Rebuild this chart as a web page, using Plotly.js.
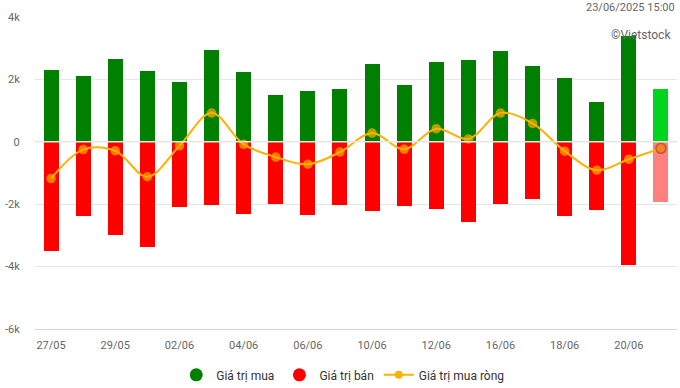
<!DOCTYPE html>
<html>
<head>
<meta charset="utf-8">
<script src="https://cdn.plot.ly/plotly-3.0.1.min.js"></script>
<style>
html,body{margin:0;padding:0;background:#fff;}
#chart{width:680px;height:388px;}
</style>
</head>
<body>
<div id="chart"></div>
<script>
var dates = ["27/05","28/05","29/05","30/05","02/06","03/06","04/06","05/06","06/06","09/06",
             "10/06","11/06","12/06","13/06","16/06","17/06","18/06","19/06","20/06","23/06"];
var buyValues = [2300,2100,2650,2260,1910,2940,2230,1490,1620,1690,
                 2490,1810,2550,2620,2910,2420,2040,1270,3390,1690];
var sellValues = [-3500,-2380,-2990,-3380,-2090,-2030,-2320,-2000,-2350,-2030,
                  -2220,-2060,-2160,-2570,-2000,-1840,-2380,-2190,-3950,-1930];
var netValues = [-1180,-250,-290,-1120,-130,920,-80,-490,-720,-330,
                 280,-240,420,90,920,590,-300,-910,-560,-210];
var xTickLabels = ["27/05","29/05","02/06","04/06","06/06","10/06","12/06","16/06","18/06","20/06"];
var yTickVals = [-6000,-4000,-2000,0,2000,4000];
var yTickText = ["-6k","-4k","-2k","0","2k","4k"];

var n = dates.length;
var buyColors = dates.map(function(d,i){return i===n-1 ? "#00d41c" : "#008000";});
var sellColors = dates.map(function(d,i){return i===n-1 ? "#ff8080" : "#ff0000";});
var netColors = dates.map(function(d,i){return i===n-1 ? "#f57c0a" : "#ffb000";});
var netLineColors = dates.map(function(d,i){return i===n-1 ? "#9a4a14" : "#ffb000";});
var netSizes = dates.map(function(d,i){return i===n-1 ? 10 : 8;});

var traces = [
  {type:"bar", x:dates, y:buyValues, name:"Giá trị mua", showlegend:false,
   marker:{color:buyColors}, width:0.47, hoverinfo:"y"},
  {type:"bar", x:dates, y:sellValues, name:"Giá trị bán", showlegend:false,
   marker:{color:sellColors}, width:0.47, hoverinfo:"y"},
  {type:"scatter", mode:"lines+markers", x:dates, y:netValues, name:"Giá trị mua ròng", showlegend:false,
   line:{color:"#ffb000", width:2, shape:"spline", smoothing:1},
   marker:{color:netColors, size:netSizes, line:{color:netLineColors, width:1.5}}},
  // legend entries
  {type:"scatter", mode:"markers", x:[null], y:[null], name:"Giá trị mua",
   marker:{color:"#008000", size:13, symbol:"circle"}},
  {type:"scatter", mode:"markers", x:[null], y:[null], name:"Giá trị bán",
   marker:{color:"#ff0000", size:13, symbol:"circle"}},
  {type:"scatter", mode:"lines+markers", x:[null], y:[null], name:"Giá trị mua ròng",
   line:{color:"#ffb000", width:2}, marker:{color:"#ffb000", size:8}}
];

var layout = {
  width:680, height:388,
  margin:{l:35, r:3, t:17, b:59, autoexpand:false},
  paper_bgcolor:"#fff", plot_bgcolor:"#fff",
  font:{family:"Roboto, Arial, sans-serif", size:11, color:"#666666"},
  barmode:"relative",
  bargap:0,
  showlegend:true,
  legend:{orientation:"h", x:0.22, xanchor:"left", y:-0.147, yanchor:"middle",
          font:{size:12, color:"#333333"}, itemwidth:30, tracegroupgap:0},
  xaxis:{type:"category", range:[-0.5, n-0.5], tickvals:xTickLabels, ticktext:xTickLabels,
         showgrid:false, zeroline:false, showline:true, linecolor:"#ccd6eb", linewidth:1,
         ticks:"outside", ticklen:6, tickcolor:"rgba(0,0,0,0)",
         tickfont:{size:11, color:"#666666"}, fixedrange:true},
  yaxis:{range:[-6000,4000], tickvals:yTickVals, ticktext:yTickText,
         showgrid:true, gridcolor:"#e6e6e6", gridwidth:1, zeroline:false,
         showline:false, ticks:"outside", ticklen:12, tickcolor:"rgba(0,0,0,0)",
         tickfont:{size:11, color:"#666666"}, fixedrange:true},
  shapes:[
    {type:"line", xref:"paper", yref:"y", x0:0, x1:1, y0:0, y1:0, layer:"above",
     line:{color:"#e6e6e6", width:1.5}}
  ],
  annotations:[
    {text:"23/06/2025 15:00", xref:"paper", x:1, xanchor:"right",
     y:4000, yref:"y", yanchor:"bottom", yshift:1, showarrow:false,
     font:{size:11, color:"#666666"}},
    {text:"©Vietstock", xref:"paper", x:0.993, xanchor:"right", yref:"y", y:3430,
     yanchor:"middle", showarrow:false, font:{size:12, color:"#666666"}}
  ]
};

Plotly.newPlot("chart", traces, layout, {displayModeBar:false, staticPlot:true});
</script>
</body>
</html>
